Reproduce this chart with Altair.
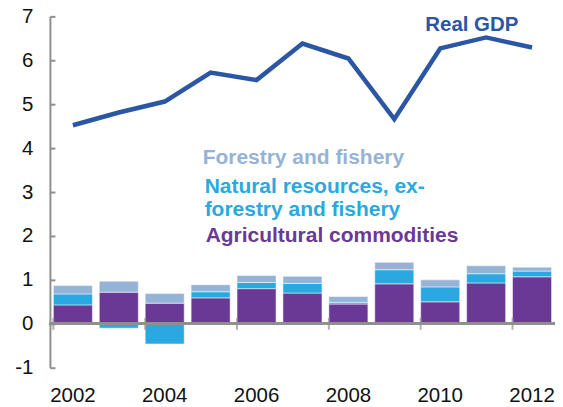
import altair as alt
import pandas as pd

years = [2002, 2003, 2004, 2005, 2006, 2007, 2008, 2009, 2010, 2011, 2012]
agri = [0.43, 0.72, 0.47, 0.59, 0.80, 0.70, 0.45, 0.91, 0.50, 0.93, 1.07]
natural = [0.25, -0.10, -0.46, 0.14, 0.14, 0.22, 0.04, 0.32, 0.34, 0.21, 0.13]
forestry = [0.19, 0.25, 0.22, 0.16, 0.16, 0.16, 0.13, 0.17, 0.16, 0.18, 0.09]
gdp = [4.52, 4.81, 5.06, 5.72, 5.55, 6.38, 6.04, 4.66, 6.27, 6.52, 6.29]
label_years = [2002, 2004, 2006, 2008, 2010, 2012]
y_ticks = [-1, 0, 1, 2, 3, 4, 5, 6, 7]

series_names = ["Agricultural commodities", "Natural resources", "Forestry and fishery"]
series_colors = ["#6a3996", "#29a9e0", "#95b3d7"]

rows = []
for i, y in enumerate(years):
    for k, (name, vals) in enumerate(zip(series_names, [agri, natural, forestry])):
        rows.append({"year": y, "series": name, "value": vals[i], "order": k})
bar_df = pd.DataFrame(rows)
gdp_df = pd.DataFrame({"year": years, "gdp": gdp})
tick_df = pd.DataFrame({"year": label_years})

W, H = 506, 352
FONT = "Liberation Sans"
GRAY = "#8f8f8f"

xscale = alt.Scale(domain=years, paddingInner=0.15, paddingOuter=0.075)
yscale = alt.Scale(domain=[-1, 7], nice=False, zero=False)

bars = alt.Chart(bar_df).mark_bar(stroke="#ffffff", strokeWidth=1, strokeOpacity=0.5).encode(
    x=alt.X("year:O", scale=xscale, title=None,
            axis=alt.Axis(values=label_years, labelAngle=0, ticks=False, domain=False,
                          labelFontSize=20.5, labelFont=FONT, labelColor="#111111",
                          labelPadding=18, labelBaseline="top")),
    y=alt.Y("value:Q", scale=yscale, title=None, stack="zero",
            axis=alt.Axis(orient="left", values=y_ticks, ticks=False, grid=False,
                          domainColor=GRAY, domainWidth=2, labelFontSize=20.5,
                          labelFont=FONT, labelColor="#111111", labelPadding=17,
                          labelExpr="replace(datum.label, '\u2212', '-')")),
    color=alt.Color("series:N", scale=alt.Scale(domain=series_names, range=series_colors), legend=None),
    order=alt.Order("order:Q"),
)

zero_rule = alt.Chart(bar_df).mark_rule(color=GRAY, strokeWidth=2).encode(y=alt.datum(0))

xticks = alt.Chart(tick_df).mark_tick(orient="vertical", size=12, thickness=2, color=GRAY).encode(
    x=alt.X("year:O", scale=xscale, bandPosition=0, title=None),
    y=alt.datum(0),
)

line = alt.Chart(gdp_df).mark_line(color="#2a56a3", strokeWidth=4.5).encode(
    x=alt.X("year:O", scale=xscale, title=None),
    y=alt.Y("gdp:Q", scale=yscale, title=None,
            axis=alt.Axis(orient="right", offset=-W, values=y_ticks, labels=False,
                          domain=False, grid=False, tickSize=5, tickWidth=2, tickColor=GRAY)),
)

ann_texts = ["Forestry and fishery", "Natural resources, ex-", "forestry and fishery",
             "Agricultural commodities", "Real GDP"]
ann_colors = ["#95b3d7", "#29a9e0", "#29a9e0", "#6a3996", "#2a56a3"]
ann_x = [153, 155, 155, 156, 376]
ann_y = [148, 177, 200, 226, 15]
ann_size = [21, 21, 21, 21, 20.5]

texts = []
for t, c, ax, ay, fs in zip(ann_texts, ann_colors, ann_x, ann_y, ann_size):
    texts.append(
        alt.Chart(gdp_df.head(1)).mark_text(
            text=t, color=c, font=FONT, fontSize=fs, fontWeight="bold",
            align="left", baseline="alphabetic"
        ).encode(x=alt.value(ax), y=alt.value(ay))
    )

chart = alt.layer(bars, zero_rule, xticks, line, *texts).resolve_axis(y="independent").properties(
    width=W, height=H,
    autosize=alt.AutoSizeParams(type="none"),
    padding={"left": 42, "top": 8, "right": 0, "bottom": 38},
).configure_view(stroke=None)

chart.save("out.html", embed_options={"renderer": "svg", "actions": False})
